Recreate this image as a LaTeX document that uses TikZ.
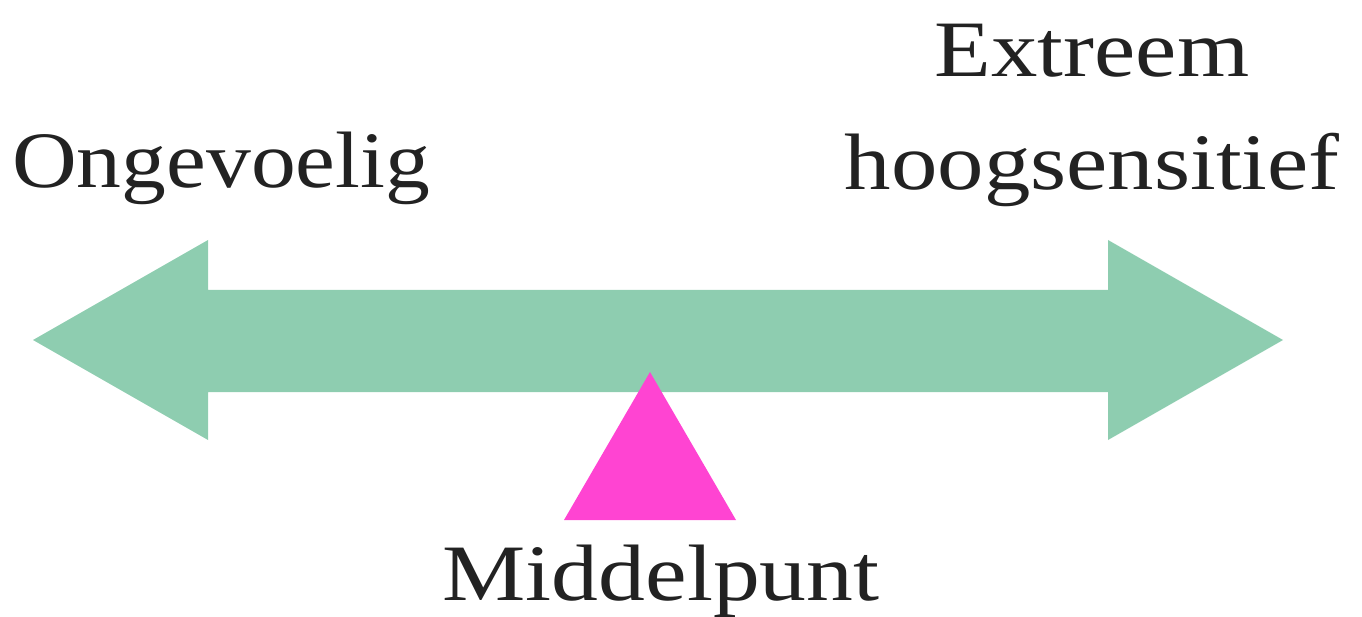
\documentclass[tikz,border=0pt]{standalone}
\usepackage{fontspec}
\setmainfont{Liberation Serif}
\definecolor{arrowgreen}{HTML}{8ECDB0}
\definecolor{pivotpink}{HTML}{FF44D2}
\definecolor{txt}{HTML}{222222}
\newcommand{\wide}[2]{\scalebox{#1}[1]{#2}}
\begin{document}
\begin{tikzpicture}[x=1pt,y=-1pt,
  lbl/.style={text=txt,font=\fontsize{80}{96}\selectfont,inner sep=0pt,anchor=base west}]
\useasboundingbox (0,0) rectangle (1362,617);
\fill[arrowgreen] (33,340) -- (208,240) -- (208,290) -- (1108,290) -- (1108,240)
  -- (1283,340) -- (1108,440) -- (1108,392) -- (208,392) -- (208,440) -- cycle;
\fill[pivotpink] (650,372) -- (736,520) -- (564,520) -- cycle;
\node[lbl] (left) at (12,188) {\wide{1.12}{Ongevoelig}};
\node[lbl,anchor=base] (ext1) at (1092,77) {\wide{1.16}{Extreem}};
\node[lbl,anchor=base east] (ext2) at (1340,190) {\wide{1.16}{hoogsensitief}};
\node[lbl,anchor=base] (mid) at (661,600) {\wide{1.17}{Middelpunt}};
\end{tikzpicture}
\end{document}
